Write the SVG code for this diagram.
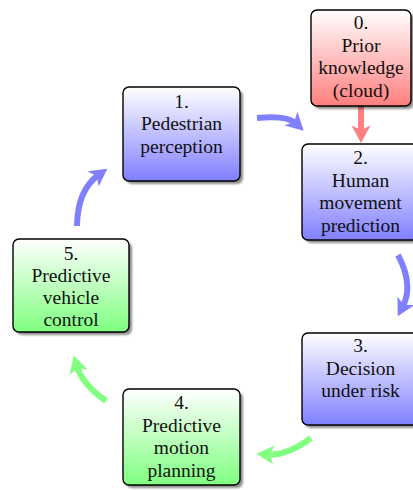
<svg xmlns="http://www.w3.org/2000/svg" width="413" height="490" viewBox="0 0 413 490">
  <style>
    .box { stroke: #000; stroke-width: 1.4; }
    .shadow { fill: #000; opacity: 0.45; filter: url(#soft); }
    .label { font-family: "Liberation Serif", "Times New Roman", serif; font-size: 19.5px; fill: #111; text-anchor: middle; }
    .arc { fill: none; stroke-width: 6; stroke-linecap: butt; }
    .blue { stroke: #8080ff; }
    .red { stroke: #ff8080; }
    .green { stroke: #80ff80; }
  </style>
  <defs>
    <linearGradient id="gRed" x1="0" y1="0" x2="0" y2="1">
      <stop offset="0" stop-color="#ffffff"/>
      <stop offset="1" stop-color="#ff7f7f"/>
    </linearGradient>
    <linearGradient id="gBlue" x1="0" y1="0" x2="0" y2="1">
      <stop offset="0" stop-color="#ffffff"/>
      <stop offset="1" stop-color="#7f7fff"/>
    </linearGradient>
    <linearGradient id="gGreen" x1="0" y1="0" x2="0" y2="1">
      <stop offset="0" stop-color="#ffffff"/>
      <stop offset="1" stop-color="#7fff7f"/>
    </linearGradient>
    <filter id="soft" x="-10%" y="-10%" width="120%" height="120%">
      <feGaussianBlur stdDeviation="1"/>
    </filter>
    <marker id="headBlue" markerUnits="userSpaceOnUse" viewBox="-8 -10 20 20" refX="0" refY="0" markerWidth="20" markerHeight="20" orient="auto" overflow="visible">
      <path d="M10.5,0 L-7,-9.5 L-2.5,0 L-7,9.5 Z" fill="#8080ff"/>
    </marker>
    <marker id="headRed" markerUnits="userSpaceOnUse" viewBox="-8 -10 20 20" refX="0" refY="0" markerWidth="20" markerHeight="20" orient="auto" overflow="visible">
      <path d="M10,0 L-7.5,-9.5 L-3,0 L-7.5,9.5 Z" fill="#ff8080"/>
    </marker>
    <marker id="headGreen" markerUnits="userSpaceOnUse" viewBox="-8 -10 20 20" refX="0" refY="0" markerWidth="20" markerHeight="20" orient="auto" overflow="visible">
      <path d="M10.5,0 L-7,-9.5 L-2.5,0 L-7,9.5 Z" fill="#80ff80"/>
    </marker>
  </defs>

  <!-- connectors -->
  <g id="connectors">
    <path class="arc blue" d="M257,118 Q287,115 296,123.5" marker-end="url(#headBlue)"/>
    <path class="arc red" d="M361,106 L361,133" marker-end="url(#headRed)"/>
    <path class="arc blue" d="M398,255 Q414,285 402.6,307" marker-end="url(#headBlue)"/>
    <path class="arc green" d="M311,438 Q287,456 267,454.6" marker-end="url(#headGreen)"/>
    <path class="arc green" d="M106,401 Q82,384 76.7,365.6" marker-end="url(#headGreen)"/>
    <path class="arc blue" d="M77,226 Q77.5,190 98.8,174.8" marker-end="url(#headBlue)"/>
  </g>

  <!-- 0. Prior knowledge -->
  <g id="n0">
    <rect class="shadow" x="314" y="13" width="100" height="96" rx="6"/>
    <rect class="box" x="311" y="10" width="100" height="96" rx="6" fill="url(#gRed)"/>
    <text class="label" x="361" y="29">0.</text>
    <text class="label" x="361" y="51.5">Prior</text>
    <text class="label" x="361" y="74">knowledge</text>
    <text class="label" x="361" y="96.5">(cloud)</text>
  </g>

  <!-- 1. Pedestrian perception -->
  <g id="n1">
    <rect class="shadow" x="126" y="90" width="117" height="94" rx="6"/>
    <rect class="box" x="123" y="87" width="117" height="94" rx="6" fill="url(#gBlue)"/>
    <text class="label" x="181.5" y="107.5">1.</text>
    <text class="label" x="181.5" y="130">Pedestrian</text>
    <text class="label" x="181.5" y="152.5">perception</text>
  </g>

  <!-- 2. Human movement prediction -->
  <g id="n2">
    <rect class="shadow" x="305" y="147" width="117" height="96" rx="6"/>
    <rect class="box" x="302" y="144" width="117" height="96" rx="6" fill="url(#gBlue)"/>
    <text class="label" x="360.5" y="164">2.</text>
    <text class="label" x="360.5" y="186.5">Human</text>
    <text class="label" x="360.5" y="209">movement</text>
    <text class="label" x="360.5" y="231.5">prediction</text>
  </g>

  <!-- 3. Decision under risk -->
  <g id="n3">
    <rect class="shadow" x="305" y="336" width="117" height="92" rx="6"/>
    <rect class="box" x="302" y="333" width="117" height="92" rx="6" fill="url(#gBlue)"/>
    <text class="label" x="360.5" y="352">3.</text>
    <text class="label" x="360.5" y="374.5">Decision</text>
    <text class="label" x="360.5" y="397">under risk</text>
  </g>

  <!-- 4. Predictive motion planning -->
  <g id="n4">
    <rect class="shadow" x="126" y="392" width="117" height="96" rx="6"/>
    <rect class="box" x="123" y="389" width="117" height="96" rx="6" fill="url(#gGreen)"/>
    <text class="label" x="181.5" y="409">4.</text>
    <text class="label" x="181.5" y="431.5">Predictive</text>
    <text class="label" x="181.5" y="454">motion</text>
    <text class="label" x="181.5" y="476.5">planning</text>
  </g>

  <!-- 5. Predictive vehicle control -->
  <g id="n5">
    <rect class="shadow" x="16" y="242" width="116" height="93" rx="6"/>
    <rect class="box" x="13" y="239" width="116" height="93" rx="6" fill="url(#gGreen)"/>
    <text class="label" x="71" y="260">5.</text>
    <text class="label" x="71" y="282">Predictive</text>
    <text class="label" x="71" y="304">vehicle</text>
    <text class="label" x="71" y="326">control</text>
  </g>
</svg>
